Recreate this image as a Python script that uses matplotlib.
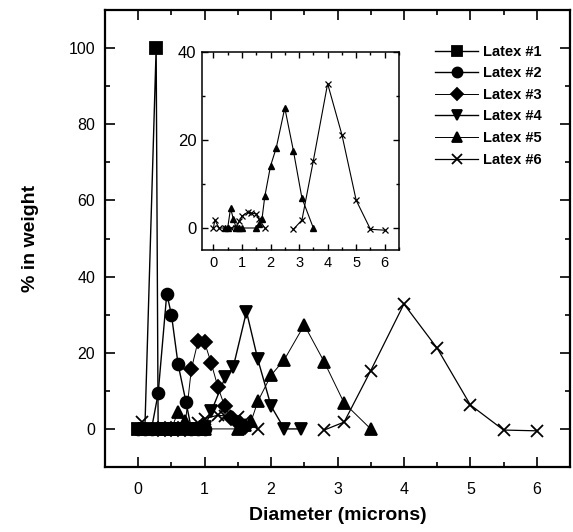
import numpy as np
import matplotlib.pyplot as plt
from matplotlib.ticker import MultipleLocator

plt.rcParams['font.family'] = ['Liberation Sans', 'DejaVu Sans']

nan = np.nan

# Latex #1
l1_x = [0.0, 0.1, 0.27, 0.3, 0.4, 0.5, 0.6]
l1_y = [0, 0, 100, 0, 0, 0, 0]
# Latex #2
l2_x = [0.0, 0.1, 0.2, 0.3, 0.43, 0.5, 0.6, 0.72, 0.8, 0.9, 1.0]
l2_y = [0, 0, 0, 9.3, 35.5, 30, 17, 7, 0, 0, 0]
# Latex #3
l3_x = [0.3, 0.4, 0.5, 0.6, 0.7, 0.8, 0.9, 1.0, 1.1, 1.2, 1.3, 1.4, 1.5, 1.6]
l3_y = [0, 0, 0, 0, 0, 15.7, 23, 22.7, 17.2, 11, 6, 2.8, 1.5, 0.5]
# Latex #4
l4_x = [0.6, 0.7, 0.8, 0.9, 1.0, 1.1, 1.31, 1.43, 1.63, 1.8, 2.0, 2.2, 2.45]
l4_y = [0, 0, 0, 0, 0.5, 4.6, 13.6, 16.2, 30.8, 18.3, 6, 0, 0]
# Latex #5
l5_x = [0.4, 0.5, 0.6, 0.7, 0.8, 0.9, 1.0, 1.5, 1.6, 1.7, 1.8, 2.0, 2.2, 2.5, 2.8, 3.1, 3.5]
l5_y = [0, 0, 4.5, 2.0, 0, 0, 0, 0, 1, 2, 7.2, 14.1, 18.2, 27.3, 17.6, 6.8, 0]
# Latex #6 (gap between the two measured ranges)
l6_x = [0.0, 0.05, 0.2, 0.4, 0.6, 0.8, 0.9, 1.0, 1.2, 1.3, 1.5, 1.6, 1.8,
        nan, 2.8, 3.1, 3.5, 4.0, 4.5, 5.0, 5.5, 6.0]
l6_y = [0, 1.8, 0, 0, 0, 0, 1.5, 2.7, 3.6, 3.4, 3.2, 2.0, 0,
        nan, -0.3, 1.8, 15.3, 32.8, 21.2, 6.3, -0.3, -0.5]

labels = ['Latex #1', 'Latex #2', 'Latex #3', 'Latex #4', 'Latex #5', 'Latex #6']
markers = ['s', 'o', 'D', 'v', '^', 'x']
msizes = [8.5, 8.5, 7, 9, 9, 9]
lwidths = [1.0, 1.0, 0.7, 1.0, 0.7, 0.9]
xs = [l1_x, l2_x, l3_x, l4_x, l5_x, l6_x]
ys = [l1_y, l2_y, l3_y, l4_y, l5_y, l6_y]

fig = plt.figure(figsize=(5.73, 5.32), dpi=100)
ax = fig.add_axes([105 / 573, 65 / 532, 465 / 573, 457 / 532])

for x, y, m, ms, lw, lab in zip(xs, ys, markers, msizes, lwidths, labels):
    ax.plot(x, y, color='black', lw=lw, marker=m, ms=ms, mew=1.3,
            mfc='black', mec='black', label=lab)

ax.set_xlim(-0.5, 6.5)
ax.set_ylim(-10, 110)
ax.xaxis.set_major_locator(MultipleLocator(1))
ax.xaxis.set_minor_locator(MultipleLocator(0.5))
ax.yaxis.set_major_locator(MultipleLocator(20))
ax.yaxis.set_minor_locator(MultipleLocator(10))
ax.tick_params(which='both', direction='in', top=True, right=True,
               labeltop=False, labelright=False, width=1.2, labelsize=11.5)
ax.tick_params(which='major', length=7)
ax.tick_params(which='minor', length=3.5)
ax.tick_params(axis='x', pad=11)
ax.tick_params(axis='y', pad=7)
for s in ax.spines.values():
    s.set_linewidth(1.6)

ax.set_xlabel('Diameter (microns)', fontsize=14, fontweight='bold', labelpad=7)
ax.set_ylabel('% in weight', fontsize=14, fontweight='bold', labelpad=21)

leg = ax.legend(loc='upper left', bbox_to_anchor=(0.695, 0.94), frameon=False,
                fontsize=10.5, handlelength=2.9, handletextpad=0.35,
                labelspacing=0.52, borderpad=0, markerscale=0.85)
for t in leg.get_texts():
    t.set_fontweight('bold')

# inset with Latex #5 and #6
ins = fig.add_axes([202 / 573, 282 / 532, 197 / 573, 198 / 532])
ins.plot(l5_x, l5_y, color='black', lw=0.8, marker='^', ms=4.5, mfc='black', mec='black')
ins.plot(l6_x, l6_y, color='black', lw=0.8, marker='x', ms=4.5, mew=0.9, mec='black')
ins.set_xlim(-0.4, 6.5)
ins.set_ylim(-5, 40)
ins.xaxis.set_major_locator(MultipleLocator(1))
ins.xaxis.set_minor_locator(MultipleLocator(0.5))
ins.yaxis.set_major_locator(MultipleLocator(20))
ins.yaxis.set_minor_locator(MultipleLocator(10))
ins.tick_params(which='both', direction='in', top=True, right=True, width=1.0)
ins.tick_params(which='major', length=4, pad=4)
ins.tick_params(which='minor', length=2)
ins.tick_params(axis='x', labelsize=10.5)
ins.tick_params(axis='y', labelsize=12)
for s in ins.spines.values():
    s.set_linewidth(1.1)

fig.savefig('out.png', dpi=100)
